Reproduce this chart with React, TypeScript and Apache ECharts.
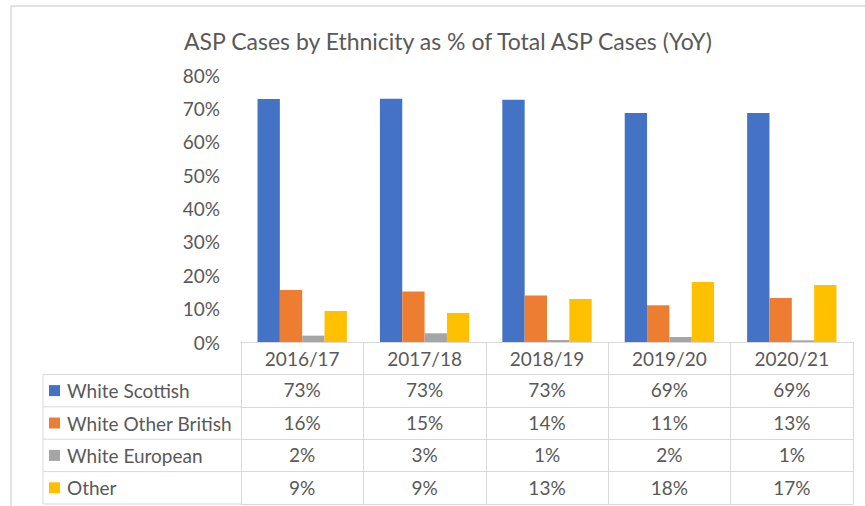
import React, { useEffect, useRef } from "react";
import * as echarts from "echarts";

const categories = ["2016/17", "2017/18", "2018/19", "2019/20", "2020/21"];
const seriesNames = ["White Scottish", "White Other British", "White European", "Other"];
const whiteScottish = [72.8, 72.9, 72.6, 68.6, 68.6];
const whiteOtherBritish = [15.6, 15.1, 13.9, 11.0, 13.2];
const whiteEuropean = [1.9, 2.6, 0.6, 1.5, 0.5];
const other = [9.3, 8.7, 12.9, 18.0, 17.1];
const yTicks = [0, 10, 20, 30, 40, 50, 60, 70, 80];

const colors = ["#4472C4", "#ED7D31", "#A5A5A5", "#FFC000"];
const TEXT = "#595959";
const LINE = "#D9D9D9";
const FONT = "Lato";

export default function App() {
  const ref = useRef<HTMLDivElement>(null);
  useEffect(() => {
    if (!ref.current) return;
    const chart = echarts.init(ref.current, null, { renderer: "svg" });
    const allSeries = [whiteScottish, whiteOtherBritish, whiteEuropean, other];
    const gridLeft = 241;
    const gridBottomY = 342;
    const rowH = 32.4;

    const rowAxes = allSeries.map((vals, k) => ({
      type: "category",
      data: categories,
      position: "bottom",
      offset: rowH * (k + 1),
      gridIndex: 0,
      axisLine: { show: true, lineStyle: { color: LINE, width: 1 } },
      axisTick: { show: false },
      axisLabel: {
        show: true,
        margin: 6,
        color: TEXT,
        fontFamily: FONT,
        fontSize: 19,
        formatter: (_v: string, i: number) => Math.round(vals[i]) + "%",
      },
    }));

    const bottomAxis = {
      type: "category",
      data: categories,
      position: "bottom",
      offset: rowH * 5,
      gridIndex: 0,
      axisLine: { show: true, lineStyle: { color: LINE, width: 1 } },
      axisTick: { show: false },
      axisLabel: { show: false },
    };

    const extras: any[] = [];
    for (let k = 1; k <= 5; k++) {
      const y = gridBottomY + rowH * k;
      extras.push({
        type: "line",
        shape: { x1: 43, y1: y, x2: gridLeft, y2: y },
        style: { stroke: LINE, lineWidth: 1 },
      });
    }
    extras.push({
      type: "line",
      shape: { x1: 43, y1: gridBottomY + rowH, x2: 43, y2: gridBottomY + rowH * 5 },
      style: { stroke: LINE, lineWidth: 1 },
    });
    extras.push({
      type: "line",
      shape: { x1: 11, y1: 6, x2: 865, y2: 6 },
      style: { stroke: LINE, lineWidth: 1.5 },
    });
    extras.push({
      type: "line",
      shape: { x1: 11, y1: 6, x2: 11, y2: 506 },
      style: { stroke: LINE, lineWidth: 1.5 },
    });

    chart.setOption({
      animation: false,
      backgroundColor: "#ffffff",
      color: colors,
      title: {
        text: "ASP Cases by Ethnicity as % of Total ASP Cases (YoY)",
        left: 443,
        top: 24,
        textAlign: "center",
        textStyle: { color: TEXT, fontFamily: FONT, fontSize: 23, fontWeight: "normal" },
      },
      legend: {
        orient: "vertical",
        left: 49,
        top: gridBottomY + rowH,
        padding: 0,
        itemWidth: 11,
        itemHeight: 11,
        itemGap: 0,
        icon: "rect",
        data: seriesNames,
        textStyle: { color: TEXT, fontFamily: FONT, fontSize: 19, lineHeight: rowH, padding: [0, 0, 0, 2] },
        selectedMode: false,
      },
      grid: { left: gridLeft, right: 12, top: 75, bottom: 506 - gridBottomY, containLabel: false },
      xAxis: [
        {
          type: "category",
          data: categories,
          position: "bottom",
          axisLine: { show: true, lineStyle: { color: LINE, width: 1 } },
          axisTick: { show: true, length: rowH * 5, lineStyle: { color: LINE, width: 1 } },
          axisLabel: { margin: 7, color: TEXT, fontFamily: FONT, fontSize: 19 },
        },
        ...rowAxes,
        bottomAxis,
      ],
      yAxis: {
        type: "value",
        min: yTicks[0],
        max: yTicks[yTicks.length - 1],
        interval: 10,
        axisLine: { show: false },
        axisTick: { show: false },
        splitLine: { show: false },
        axisLabel: {
          margin: 21,
          color: TEXT,
          fontFamily: FONT,
          fontSize: 19,
          formatter: "{value}%",
        },
      },
      series: allSeries.map((vals, k) => ({
        name: seriesNames[k],
        type: "bar",
        data: vals,
        xAxisIndex: 0,
        barGap: "0%",
        barCategoryGap: "27%",
        itemStyle: { color: colors[k] },
      })),
      graphic: extras,
    });
    return () => chart.dispose();
  }, []);
  return (
    <div
      ref={ref}
      style={{ position: "fixed", left: 0, top: 0, width: 865, height: 506, background: "#fff" }}
    />
  );
}
